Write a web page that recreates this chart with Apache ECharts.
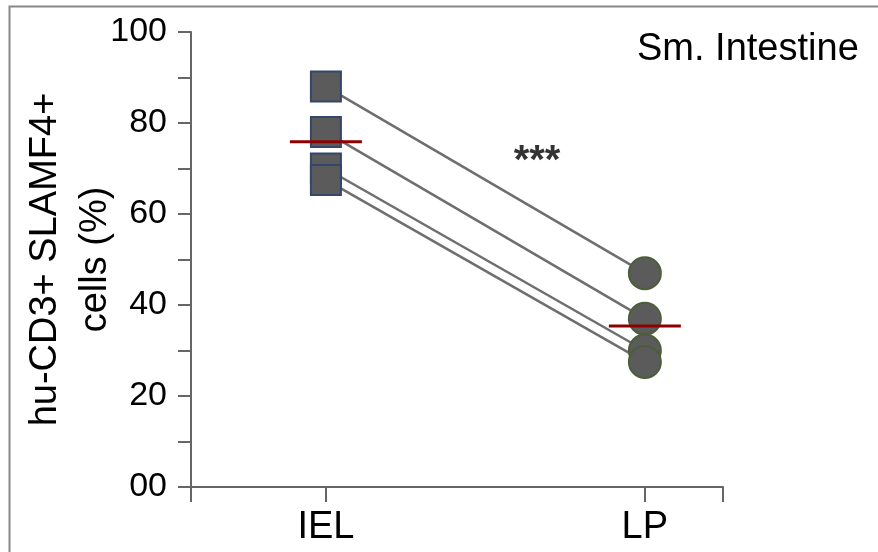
<!DOCTYPE html>
<html>
<head>
<meta charset="utf-8">
<script src="https://cdn.jsdelivr.net/npm/echarts@6/dist/echarts.min.js"></script>
<style>html,body{margin:0;padding:0;background:#fff}#c{width:878px;height:552px}</style>
</head>
<body>
<div id="c"></div>
<script>
var categories = ['IEL', 'LP'];
var ielValues = [88, 78, 70, 67.5];
var lpValues = [47, 37, 30, 27.5];
var yTicks = [0, 20, 40, 60, 80, 100];
var yTickLabels = ['00', '20', '40', '60', '80', '100'];
var titleText = 'Sm. Intestine';
var sigText = '***';
var yName = 'hu-CD3+ SLAMF4+\ncells (%)';

function mean(a){ var s=0; a.forEach(function(v){s+=v;}); return s/a.length; }

var xMin = -0.423, xMax = 1.245;
var FONT = 'Liberation Sans, Arial, sans-serif';

var series = [];
ielValues.forEach(function(v, i){
  series.push({
    type: 'line', data: [[0, v], [1, lpValues[i]]], symbol: 'none', silent: true,
    lineStyle: { color: '#6e6e6e', width: 2.5 }, z: 2
  });
});
series.push({
  type: 'scatter', symbol: 'rect', symbolSize: 30,
  data: ielValues.map(function(v){ return [0, v]; }),
  itemStyle: { color: '#5b5b5b', borderColor: '#34476a', borderWidth: 2, opacity: 1 }, z: 3
});
series.push({
  type: 'scatter', symbol: 'circle', symbolSize: 32,
  data: lpValues.map(function(v){ return [1, v]; }),
  itemStyle: { color: '#5b5b5b', borderColor: '#4c5e38', borderWidth: 2, opacity: 1 }, z: 3
});
series.push({
  type: 'scatter', symbol: 'rect', symbolSize: [72, 3],
  data: [[0, mean(ielValues)], [1, mean(lpValues)]],
  itemStyle: { color: '#8b0000', opacity: 1 }, z: 4
});
series.push({
  type: 'scatter', symbolSize: 0,
  data: [[0.662, 71.5]],
  label: { show: true, formatter: sigText, color: '#000', fontSize: 40, fontWeight: 'bold', fontFamily: FONT, position: 'inside' },
  z: 5
});

var chart = echarts.init(document.getElementById('c'));
chart.setOption({
  animation: false,
  backgroundColor: '#fff',
  grid: { left: 191, top: 32, right: 155, bottom: 65, containLabel: false, outerBoundsMode: 'none' },
  xAxis: {
    type: 'value', min: xMin, max: xMax,
    splitLine: { show: false },
    axisLine: { show: true, onZero: false, lineStyle: { color: '#666', width: 2 } },
    axisTick: { show: true, length: 15, lineStyle: { color: '#666', width: 2 }, customValues: [xMin, 0, 1, xMax] },
    axisLabel: {
      customValues: [0, 1],
      formatter: function(v){ return categories[Math.round(v)]; },
      color: '#000', fontSize: 38, fontFamily: FONT, margin: 22
    }
  },
  yAxis: {
    type: 'value', min: 0, max: 100, interval: 20,
    name: yName, nameLocation: 'middle', nameGap: 70, nameMoveOverlap: false,
    nameTextStyle: { color: '#000', fontSize: 38, fontFamily: FONT, lineHeight: 50 },
    splitLine: { show: false },
    axisLine: { show: true, onZero: false, lineStyle: { color: '#666', width: 2 } },
    axisTick: { show: true, length: 13, lineStyle: { color: '#666', width: 2 } },
    minorTick: { show: true, splitNumber: 2, length: 13, lineStyle: { color: '#666', width: 2 } },
    axisLabel: {
      formatter: function(v){ var i = yTicks.indexOf(v); return i >= 0 ? yTickLabels[i] : ''; },
      color: '#000', fontSize: 34, fontFamily: FONT, margin: 24
    }
  },
  graphic: [
    { type: 'rect', left: 7, top: 4, shape: { width: 880, height: 547 }, style: { fill: 'none', stroke: '#888', lineWidth: 2 }, silent: true },
    { type: 'text', left: 637, top: 31, style: { text: titleText, fill: '#000', font: '38px ' + FONT } }
  ],
  series: series
});
</script>
</body>
</html>
